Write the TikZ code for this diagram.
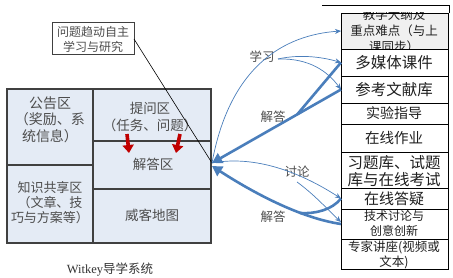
\documentclass[tikz,border=0pt]{standalone}
\usepackage{fontspec}
\setmainfont{Noto Sans CJK SC}
\newfontfamily\latinserif{Liberation Serif}
\usetikzlibrary{arrows.meta,calc}
\definecolor{panelfill}{HTML}{E4EBF5}
\definecolor{panelline}{HTML}{404040}
\definecolor{arrowblue}{HTML}{4A7EBB}
\definecolor{txtgray}{HTML}{4D4D4D}
\definecolor{darkred}{HTML}{C00000}
\definecolor{topfill}{HTML}{F0F0F0}
\newcommand{\fsz}[2]{\fontsize{#1}{#2}\selectfont}
\begin{document}
\begin{tikzpicture}[x=1pt,y=-1pt,
  panel/.style={draw=panelline,fill=panelfill,line width=1.2pt,inner sep=0,outer sep=0,anchor=north west},
  rbox/.style={draw=black,fill=white,line width=0.8pt,inner sep=0,outer sep=0,anchor=north west,minimum width=107pt},
  ltext/.style={align=center,text=txtgray,inner sep=0},
  rtext/.style={align=center,text=black!88,inner sep=0},
  thinarrow/.style={draw=arrowblue,line width=0.7pt,-{Stealth[length=6pt,width=5pt]}},
  thickline/.style={draw=arrowblue,line width=2.6pt},
  thickarrow/.style={thickline,-{Triangle[length=10pt,width=11pt]}},
  redarrow/.style={draw=darkred,line width=3.6pt,-{Triangle[length=8pt,width=11pt]}},
  lbl/.style={text=txtgray,inner sep=0,font=\fsz{12.5}{14}}
]
\useasboundingbox (0,0) rectangle (453,278);

% left panel
\node[panel,minimum width=86pt,minimum height=76pt] (gonggao) at (7,89) {};
\node[panel,minimum width=86pt,minimum height=78pt] (zhishi) at (7,165) {};
\node[panel,minimum width=118pt,minimum height=52pt] (tiwen) at (93,89) {};
\node[panel,minimum width=118pt,minimum height=48pt] (jieda) at (93,141) {};
\node[panel,minimum width=118pt,minimum height=54pt] (weike) at (93,189) {};

\node[ltext,font=\fsz{14}{16.5}] at (50,119.5) {公告区\\（奖励、系\\统信息）};
\node[ltext,font=\fsz{13}{15}] at (50,203) {知识共享区\\（文章、技\\巧与方案等）};
\node[ltext,font=\fsz{13.5}{17}] at (150,116.5) {提问区\\（任务、问题）};
\node[ltext,font=\fsz{13.5}{16}] at (153,164) {解答区};
\node[ltext,font=\fsz{13.5}{16}] at (152,215) {威客地图};

\draw[redarrow] (127,134) -- (129,153);
\draw[redarrow] (180,134) -- (176,153);

% question box
\node[draw=panelline,fill=white,line width=1pt,minimum width=82pt,minimum height=32pt,anchor=north west,inner sep=0,outer sep=0] (wenti) at (52,23) {};
\node[ltext,font=\fsz{12}{15}] at (93,39.5) {问题趋动自主\\学习与研究};

\node[text=black!80,inner sep=0] (caption) at (110,270) {{\latinserif\fsz{12.5}{14}Witkey}\fsz{12.5}{14}导学系统};

% right column
\draw[black,line width=0.8pt] (322,5) -- (449,5) -- (449,13);
\node[rbox,fill=topfill,minimum height=36pt] (r1) at (341,13) {};
\begin{scope}
\clip (r1.north west) rectangle (r1.south east);
\node[rtext,font=\fsz{12.5}{16}] at (394,31) {教学大纲及\\重点难点（与上\\课同步）};
\end{scope}
\draw[black,line width=0.8pt] (r1.north west) rectangle (r1.south east);
\node[rbox,minimum height=27pt] (r2) at (341,49) {};
\node[rbox,minimum height=27pt] (r3) at (341,76) {};
\node[rbox,minimum height=21pt] (r4) at (341,103) {};
\node[rbox,minimum height=28pt] (r5) at (341,124) {};
\node[rbox,minimum height=36pt] (r6) at (341,152) {};
\node[rbox,minimum height=21pt] (r7) at (341,188) {};
\node[rbox,minimum height=30pt] (r8) at (341,209) {};
\node[rbox,minimum height=30pt] (r9) at (341,239) {};

\node[rtext,font=\fsz{15.5}{17}] at (394,62.5) {多媒体课件};
\node[rtext,font=\fsz{15.5}{17}] at (394,89.5) {参考文献库};
\node[rtext,font=\fsz{14}{17}] at (394,113.5) {实验指导};
\node[rtext,font=\fsz{14.5}{17}] at (394,138) {在线作业};
\node[rtext,font=\fsz{15.5}{17}] at (394,171.5) {习题库、试题\\库与在线考试};
\node[rtext,font=\fsz{15}{17}] at (394,198.5) {在线答疑};
\node[rtext,font=\fsz{12}{15}] at (394,223.5) {技术讨论与\\创意创新};
\node[rtext,font=\fsz{12.5}{15}] at (394,254.5) {专家讲座(视频或\\文本)};

% connectors
\coordinate (hub) at ([xshift=1pt,yshift=2pt]jieda.east);
\draw[black,line width=0.6pt] (wenti.east) -- (hub);

\node[lbl] (xuexi) at (262,57) {学习};
\node[lbl] (jieda1) at (273,117) {解答};
\node[lbl] (taolun) at (297,172) {讨论};
\node[lbl] (jieda2) at (273,217) {解答};

\coordinate (ls) at (278,59);
\coordinate (ts) at (297,182);

\draw[thinarrow] (hub) .. controls (230,65) and (285,35) .. (r1.west);
\draw[thinarrow] (ls) .. controls (300,54) and (322,57) .. (r2.west);
\draw[thinarrow] (ls) .. controls (310,58) and (328,72) .. (r3.west);

\draw[thickarrow] (r3.west) -- (hub);
\draw[thickline] (r2.west) -- ($(r3.west)!0.34!(hub)$);

\draw[thinarrow] (hub) .. controls (255,155) and (300,172) .. (r7.west);
\draw[thinarrow] (ts) .. controls (315,195) and (330,212) .. ([yshift=2pt]r8.west);

\draw[thickarrow] (r8.west) .. controls (300,218) and (252,192) .. ([yshift=-3pt]hub);
\draw[thickline] (r7.west) .. controls (332,210) and (315,214) .. (300,213);
\end{tikzpicture}
\end{document}
